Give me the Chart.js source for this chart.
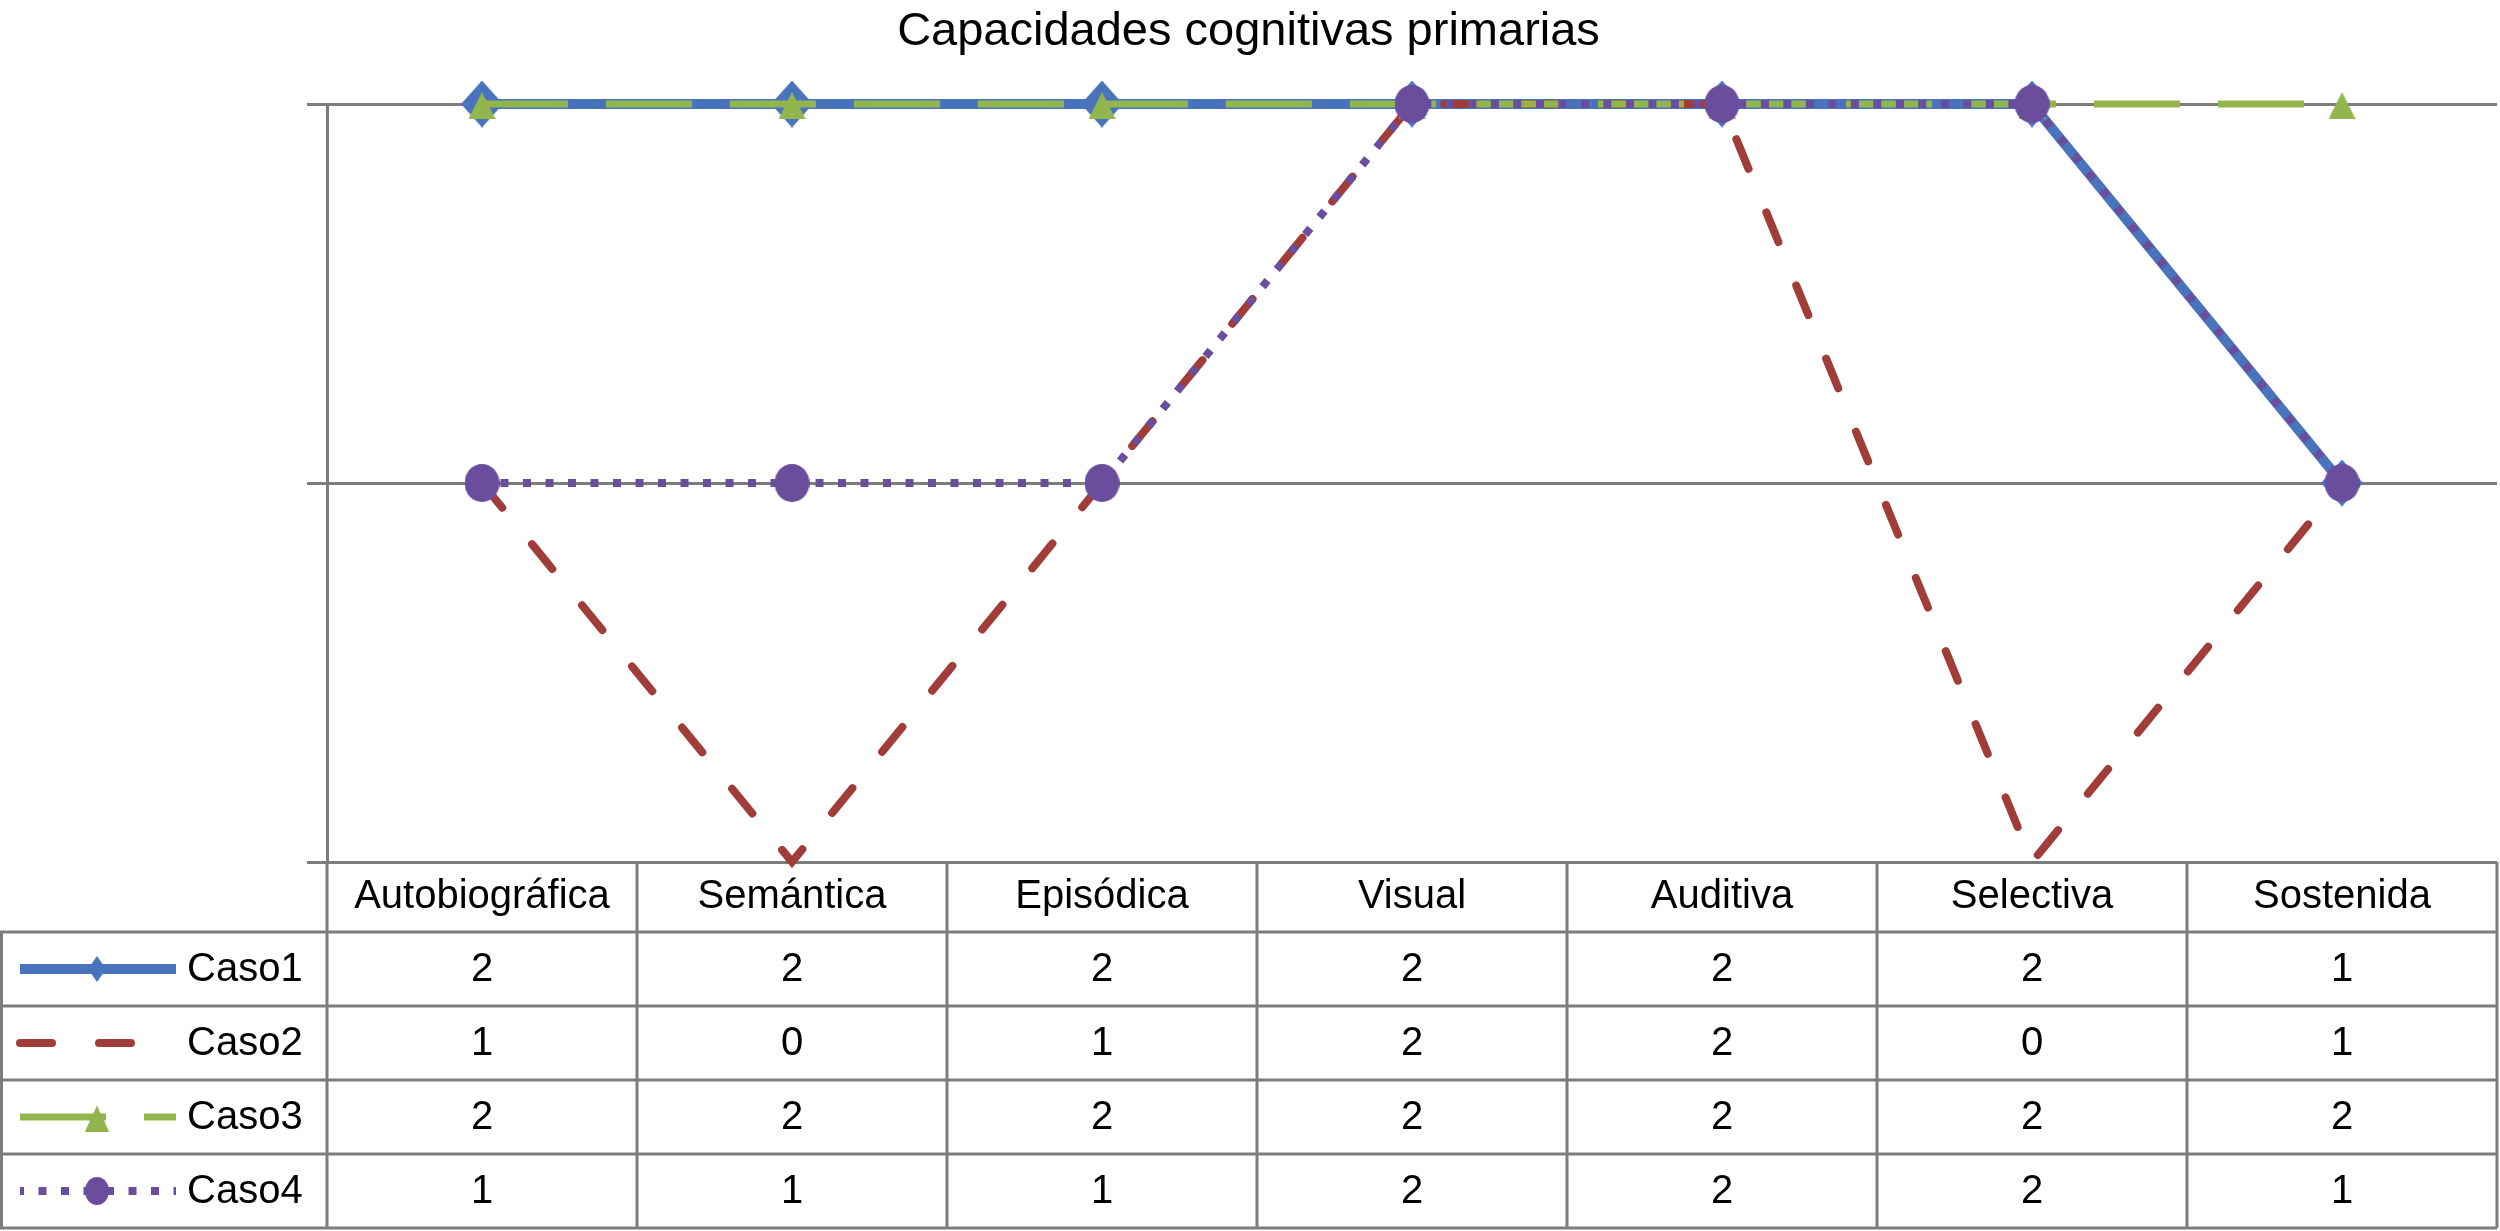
<!DOCTYPE html>
<html>
<head>
<meta charset="utf-8">
<title>Capacidades cognitivas primarias</title>
<script src="https://cdn.jsdelivr.net/npm/chart.js@4.4.1/dist/chart.umd.min.js"></script>
<style>
  html, body { margin: 0; padding: 0; background: #fff; overflow: hidden; }
  #wrapper { width: 2500px; height: 1231px; }
  #myChart { display: block; }
</style>
</head>
<body>
<div id="wrapper"><canvas id="myChart" width="2500" height="1231"></canvas></div>
<script>
// data
const labels = ['Autobiográfica', 'Semántica', 'Episódica', 'Visual', 'Auditiva', 'Selectiva', 'Sostenida'];
const caso1 = [2, 2, 2, 2, 2, 2, 1];
const caso2 = [1, 0, 1, 2, 2, 0, 1];
const caso3 = [2, 2, 2, 2, 2, 2, 2];
const caso4 = [1, 1, 1, 2, 2, 2, 1];
const seriesNames = ['Caso1', 'Caso2', 'Caso3', 'Caso4'];
const yTicks = [0, 1, 2];

const FONT = '"Liberation Sans", Arial, Helvetica, sans-serif';
const GRID = '#7c7c7c';
const BLUE = '#4a73bd';
const RED = '#a13d39';
const GREEN = '#93b54e';
const PURPLE = '#6a4d9c';

Chart.defaults.font.family = FONT;

// small canvases used as point styles
function marker(shape, color, w, h) {
  const c = document.createElement('canvas');
  c.width = w;
  c.height = h;
  const g = c.getContext('2d');
  g.fillStyle = color;
  g.beginPath();
  if (shape === 'diamond') {
    g.moveTo(w / 2, 0);
    g.lineTo(w, h / 2);
    g.lineTo(w / 2, h);
    g.lineTo(0, h / 2);
  } else if (shape === 'triangle') {
    g.moveTo(w / 2, h * 0.1);
    g.lineTo(w, h);
    g.lineTo(0, h);
  } else {
    g.ellipse(w / 2, h / 2, w / 2, h / 2, 0, 0, Math.PI * 2);
  }
  g.closePath();
  g.fill();
  return c;
}

const markers = {
  Caso1: marker('diamond', BLUE, 42, 47),
  Caso3: marker('triangle', GREEN, 27, 30),
  Caso4: marker('circle', PURPLE, 35, 38)
};
const legendMarkers = {
  Caso1: marker('diamond', BLUE, 18, 26),
  Caso3: marker('triangle', GREEN, 24, 29),
  Caso4: marker('circle', PURPLE, 24, 28)
};

// data table under the plot, columns follow the x scale
const dataTable = {
  id: 'dataTable',
  afterDraw(chart) {
    const ctx = chart.ctx;
    const xs = chart.scales.x;
    const area = chart.chartArea;
    const step = xs.getPixelForValue(1) - xs.getPixelForValue(0);
    const headTop = area.bottom;
    const top = xs.bottom;
    const rowH = 74;
    const bottom = top + rowH * seriesNames.length;

    ctx.save();
    ctx.strokeStyle = GRID;
    ctx.lineWidth = 3;
    ctx.beginPath();
    for (let r = 0; r <= seriesNames.length; r++) {
      const y = top + r * rowH;
      ctx.moveTo(0, y);
      ctx.lineTo(area.right, y);
    }
    ctx.moveTo(1.5, top);
    ctx.lineTo(1.5, bottom);
    for (let k = 0; k <= labels.length; k++) {
      const x = area.left + k * step;
      ctx.moveTo(x, headTop);
      ctx.lineTo(x, bottom);
    }
    ctx.stroke();

    ctx.font = '40px ' + FONT;
    ctx.fillStyle = '#000';
    ctx.textBaseline = 'alphabetic';
    chart.data.datasets.forEach((ds, r) => {
      const mid = top + r * rowH + rowH / 2;
      ctx.textAlign = 'center';
      ds.data.forEach((v, i) => {
        ctx.fillText(String(v), xs.getPixelForValue(i), mid + 12);
      });
      ctx.textAlign = 'left';
      ctx.fillText(ds.label, 187, mid + 12);

      // legend key
      ctx.save();
      ctx.strokeStyle = ds.borderColor;
      ctx.lineWidth = ds.borderWidth;
      ctx.lineCap = ds.borderCapStyle || 'butt';
      ctx.setLineDash(ds.borderDash || []);
      ctx.lineDashOffset = ds.borderDashOffset || 0;
      ctx.beginPath();
      ctx.moveTo(20, mid);
      ctx.lineTo(176, mid);
      ctx.stroke();
      ctx.restore();
      const m = legendMarkers[ds.label];
      if (m) ctx.drawImage(m, 97 - m.width / 2, mid - m.height / 2);
    });
    ctx.restore();
  }
};

const ctx = document.getElementById('myChart').getContext('2d');
const myChart = new Chart(ctx, {
  type: 'line',
  data: {
    labels: labels,
    datasets: [
      {
        label: seriesNames[0],
        data: caso1,
        borderColor: BLUE,
        backgroundColor: BLUE,
        borderWidth: 10,
        pointStyle: markers.Caso1,
        pointRadius: 22,
        order: 4
      },
      {
        label: seriesNames[1],
        data: caso2,
        borderColor: RED,
        backgroundColor: RED,
        borderWidth: 8,
        borderDash: [32, 47],
        borderCapStyle: 'round',
        pointRadius: 0,
        order: 3
      },
      {
        label: seriesNames[2],
        data: caso3,
        borderColor: GREEN,
        backgroundColor: GREEN,
        borderWidth: 7,
        borderDash: [86, 38],
        pointStyle: markers.Caso3,
        pointRadius: 15,
        order: 2
      },
      {
        label: seriesNames[3],
        data: caso4,
        borderColor: PURPLE,
        backgroundColor: PURPLE,
        borderWidth: 8,
        borderDash: [8, 14.5],
        borderDashOffset: 4,
        pointStyle: markers.Caso4,
        pointRadius: 18,
        order: 1
      }
    ]
  },
  options: {
    responsive: false,
    animation: false,
    clip: false,
    layout: {
      autoPadding: false,
      padding: { left: 0, right: 3, top: 0, bottom: 299 }
    },
    elements: {
      line: { tension: 0, fill: false },
      point: { borderWidth: 0 }
    },
    scales: {
      x: {
        offset: true,
        grid: { display: false, drawTicks: false },
        border: { display: false },
        ticks: {
          color: '#000',
          font: { size: 40 },
          padding: 11,
          maxRotation: 0,
          autoSkip: false
        },
        afterFit(scale) {
          scale.height = 70;
          scale.paddingLeft = 0;
          scale.paddingRight = 0;
        }
      },
      y: {
        min: 0,
        max: 2,
        afterBuildTicks(scale) { scale.ticks = yTicks.map(v => ({ value: v })); },
        grid: { color: GRID, lineWidth: 3, tickLength: 20, drawTicks: true },
        border: { display: true, color: GRID, width: 3 },
        ticks: { display: false },
        afterFit(scale) { scale.width = 327; }
      }
    },
    plugins: {
      legend: { display: false },
      tooltip: { enabled: false },
      title: {
        display: true,
        text: 'Capacidades cognitivas primarias',
        color: '#000',
        font: { size: 47, weight: 'normal' },
        padding: { top: 4, bottom: 43.6 }
      }
    }
  },
  plugins: [dataTable]
});
</script>
</body>
</html>
